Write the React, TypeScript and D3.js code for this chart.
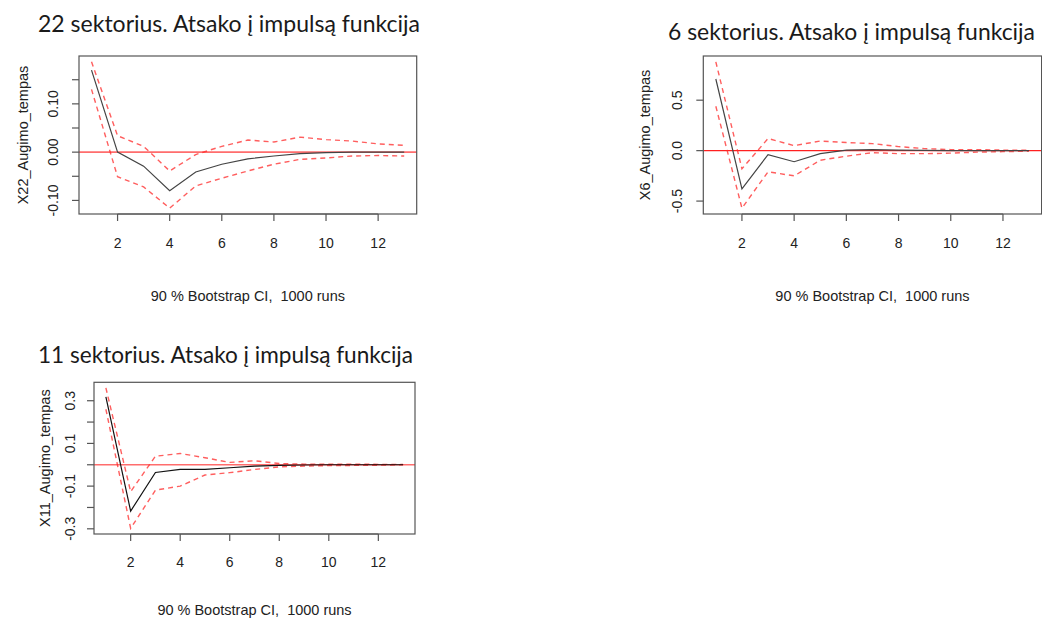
import React from 'react';
import * as d3 from 'd3';

// impulse response horizon
const steps = [1, 2, 3, 4, 5, 6, 7, 8, 9, 10, 11, 12, 13];
const xTicks = [2, 4, 6, 8, 10, 12];

// sector 22
const irf22 = [0.170, 0.000, -0.029, -0.080, -0.041, -0.025, -0.014, -0.008, -0.003, -0.001, 0.000, 0.000, 0.000];
const upper22 = [0.187, 0.034, 0.012, -0.039, -0.005, 0.012, 0.025, 0.021, 0.031, 0.026, 0.023, 0.017, 0.014];
const lower22 = [0.130, -0.051, -0.072, -0.116, -0.070, -0.054, -0.039, -0.025, -0.015, -0.012, -0.008, -0.007, -0.008];
const yTicks22 = [-0.1, -0.05, 0, 0.05, 0.1, 0.15];
const yLabels22 = ['-0.10', '', '0.00', '', '0.10', ''];

// sector 6
const irf6 = [0.71, -0.38, -0.04, -0.11, -0.03, 0.005, 0.01, 0.005, 0.002, 0.0, 0.0, 0.0, 0.0];
const upper6 = [0.88, -0.18, 0.12, 0.05, 0.095, 0.08, 0.07, 0.04, 0.02, 0.01, 0.01, 0.005, 0.005];
const lower6 = [0.44, -0.57, -0.21, -0.25, -0.095, -0.055, -0.02, -0.03, -0.03, -0.025, -0.015, -0.01, -0.005];
const yTicks6 = [-0.5, 0, 0.5];
const yLabels6 = ['-0.5', '0.0', '0.5'];

// sector 11
const irf11 = [0.318, -0.217, -0.036, -0.022, -0.022, -0.014, -0.006, -0.003, -0.001, 0.0, 0.0, 0.0, 0.0];
const upper11 = [0.36, -0.126, 0.04, 0.053, 0.033, 0.011, 0.019, 0.006, 0.003, 0.003, 0.003, 0.002, 0.002];
const lower11 = [0.26, -0.298, -0.119, -0.10, -0.048, -0.037, -0.022, -0.01, -0.006, -0.004, -0.003, -0.002, 0.0];
const yTicks11 = [-0.3, -0.2, -0.1, 0, 0.1, 0.2, 0.3];
const yLabels11 = ['-0.3', '', '-0.1', '', '0.1', '', '0.3'];

const AXIS_FONT = '"Liberation Sans", Arial, sans-serif';
const TITLE_FONT = 'Lato, "Open Sans", sans-serif';
const FOOT = '90 % Bootstrap CI,\u00a0 1000 runs';

type PanelProps = {
  title: string;
  titleX: number;
  titleY: number;
  titleW: number;
  ylab: string;
  irf: number[];
  upper: number[];
  lower: number[];
  yTicks: number[];
  yLabels: string[];
  box: { left: number; right: number; top: number; bottom: number };
  ylabX: number;
  tickLabelX: number;
  xLabelY: number;
  footY: number;
  zeroColor: string;
  zeroWidth: number;
  lineColor: string;
};

function Panel(p: PanelProps) {
  const { box } = p;
  const all = [...p.irf, ...p.upper, ...p.lower];
  const lo = d3.min(all)!;
  const hi = d3.max(all)!;
  const pad = (hi - lo) * 0.04;

  // R style 4% padding on both axes
  const x = d3.scaleLinear().domain([1 - 0.48, 13 + 0.48]).range([box.left, box.right]);
  const y = d3.scaleLinear().domain([lo - pad, hi + pad]).range([box.bottom, box.top]);

  const line = d3.line<number>()
    .x((_, i) => x(steps[i]))
    .y(d => y(d));

  const midX = (box.left + box.right) / 2;
  const midY = (box.top + box.bottom) / 2;

  return (
    <g>
      <text x={p.titleX} y={p.titleY} fontFamily={TITLE_FONT} fontWeight={400} fontSize={23}
        fill="#1a1a1a" textLength={p.titleW} lengthAdjust="spacingAndGlyphs">{p.title}</text>

      <line x1={box.left} x2={box.right} y1={y(0)} y2={y(0)} stroke={p.zeroColor} strokeWidth={p.zeroWidth} />
      <path d={line(p.upper)!} fill="none" stroke="rgba(255,40,40,0.75)" strokeWidth={1.4} strokeDasharray="5,4" />
      <path d={line(p.lower)!} fill="none" stroke="rgba(255,40,40,0.75)" strokeWidth={1.4} strokeDasharray="5,4" />
      <path d={line(p.irf)!} fill="none" stroke={p.lineColor} strokeWidth={1.2} />

      <rect x={box.left} y={box.top} width={box.right - box.left} height={box.bottom - box.top}
        fill="none" stroke="#555" strokeWidth={1.2} />

      {/* y axis */}
      {p.yTicks.map((t, i) => (
        <g key={t}>
          <line x1={box.left - 7} x2={box.left} y1={y(t)} y2={y(t)} stroke="#555" strokeWidth={1.2} />
          {p.yLabels[i] && (
            <text transform={`translate(${p.tickLabelX},${y(t)}) rotate(-90)`} textAnchor="middle"
              dominantBaseline="central" fontFamily={AXIS_FONT} fontSize={14} fill="#222">{p.yLabels[i]}</text>
          )}
        </g>
      ))}
      <text transform={`translate(${p.ylabX},${midY}) rotate(-90)`} textAnchor="middle"
        dominantBaseline="central" fontFamily={AXIS_FONT} fontSize={14.5} fill="#222">{p.ylab}</text>

      {/* x axis */}
      <line x1={x(xTicks[0])} x2={x(xTicks[xTicks.length - 1])} y1={box.bottom} y2={box.bottom} stroke="#555" />
      {xTicks.map(t => (
        <g key={t}>
          <line x1={x(t)} x2={x(t)} y1={box.bottom} y2={box.bottom + 7} stroke="#555" strokeWidth={1.2} />
          <text x={x(t)} y={p.xLabelY} textAnchor="middle" dominantBaseline="central"
            fontFamily={AXIS_FONT} fontSize={14} fill="#222">{t}</text>
        </g>
      ))}
      <text x={midX} y={p.footY} textAnchor="middle" dominantBaseline="central"
        fontFamily={AXIS_FONT} fontSize={14.5} fill="#222">{FOOT}</text>
    </g>
  );
}

export default function App() {
  return (
    <svg width={1042} height={620} style={{ position: 'absolute', left: 0, top: 0, background: '#fff' }}>
      <rect width={1042} height={620} fill="#fff" />
      <Panel title="22 sektorius. Atsako į impulsą funkcija" titleX={38} titleY={31.5} titleW={382}
        ylab="X22_Augimo_tempas" irf={irf22} upper={upper22} lower={lower22}
        yTicks={yTicks22} yLabels={yLabels22}
        box={{ left: 79, right: 416.7, top: 56, bottom: 214 }}
        ylabX={22.7} tickLabelX={53} xLabelY={242.7} footY={296}
        zeroColor="rgba(255,60,60,0.75)" zeroWidth={1.6} lineColor="#444" />
      <Panel title="6 sektorius. Atsako į impulsą funkcija" titleX={668} titleY={40} titleW={367}
        ylab="X6_Augimo_tempas" irf={irf6} upper={upper6} lower={lower6}
        yTicks={yTicks6} yLabels={yLabels6}
        box={{ left: 703.3, right: 1041.6, top: 56, bottom: 214 }}
        ylabX={645} tickLabelX={676.7} xLabelY={242.7} footY={296}
        zeroColor="#ff2020" zeroWidth={1.1} lineColor="#444" />
      <Panel title="11 sektorius. Atsako į impulsą funkcija" titleX={38} titleY={363.3} titleW={375}
        ylab="X11_Augimo_tempas" irf={irf11} upper={upper11} lower={lower11}
        yTicks={yTicks11} yLabels={yLabels11}
        box={{ left: 94, right: 415, top: 382.3, bottom: 534 }}
        ylabX={45} tickLabelX={70} xLabelY={561.7} footY={610}
        zeroColor="rgba(255,60,60,0.75)" zeroWidth={1.6} lineColor="#111" />
    </svg>
  );
}
